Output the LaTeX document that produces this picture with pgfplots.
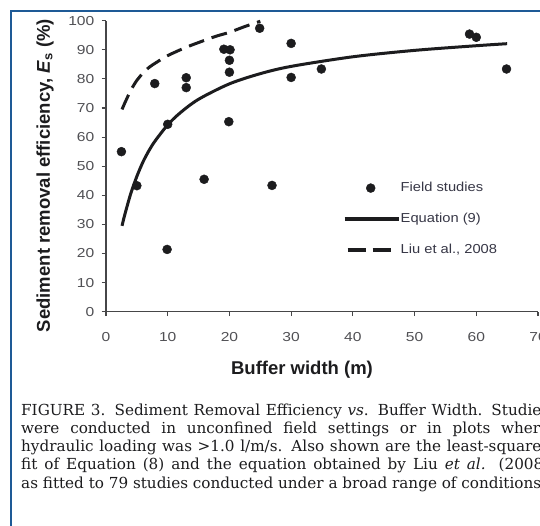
\documentclass[border=0pt]{standalone}
\usepackage{fontspec}
\usepackage{pgfplots}
\pgfplotsset{compat=1.18}

\newfontfamily\arialf{Liberation Sans}
\newfontfamily\tickf{Liberation Sans}[FakeStretch=1.2]
\newfontfamily\legf{Liberation Sans}[FakeStretch=1.13]
\newfontfamily\capf{DejaVu Serif}

\definecolor{frameblue}{RGB}{30,90,150}
\definecolor{ink}{RGB}{28,28,30}
\definecolor{tickgray}{RGB}{80,80,84}
\definecolor{axisgray}{RGB}{70,70,72}
\definecolor{legtext}{RGB}{55,55,70}

\begin{document}
\begin{tikzpicture}
\path[use as bounding box] (0,0) rectangle (540pt,525pt);
\clip (0,0) rectangle (540pt,525pt);
\fill[white] (0,0) rectangle (540pt,525pt);
% frame of the page scan
\draw[frameblue, line width=2.2pt] (11pt,-5pt) -- (11pt,514pt) -- (545pt,514pt);

\begin{axis}[
    at={(106pt,213.3pt)}, anchor=south west,
    width=432pt, height=291pt, scale only axis,
    xmin=0, xmax=70, ymin=0, ymax=100,
    axis x line*=bottom, axis y line*=left,
    axis line style={axisgray, line width=1.3pt},
    tick style={axisgray, line width=1.1pt},
    tick align=outside, major tick length=4.5pt,
    xtick={0,10,...,70}, ytick={0,10,...,100},
    ticklabel style={font=\tickf\fontsize{13}{13}\selectfont, text=tickgray, inner sep=0pt},
    /pgf/number format/assume math mode=true,
    xticklabel style={anchor=north, yshift=-16pt},
    yticklabel style={anchor=east, xshift=-7pt},
    xlabel={Buffer width (m)},
    ylabel={Sediment removal efficiency, \textit{E}\textsubscript{s} (\%)},
    label style={font=\arialf\bfseries\fontsize{18.5}{18.5}\selectfont, text=ink},
    xlabel style={at={(axis description cs:0.4537,-0.2175)}, anchor=base},
    ylabel style={at={(axis description cs:-0.1412,0.468)}, anchor=center},
    clip=false,
    legend style={at={(axis description cs:0.5475,0.4478)}, anchor=north west,
        draw=none, fill=none, inner sep=0pt, row sep=18pt,
        font=\legf\fontsize{13}{13}\selectfont, text=legtext,
        nodes={inner sep=0pt, text height=10pt, text depth=3pt}},
    legend cell align=left,
]
\addplot[only marks, mark=*, mark size=4.5pt, color=ink,
    legend image code/.code={\path[draw=none, fill=none] (0pt,0pt) -- (55pt,0pt);
        \fill[ink] (26pt,0pt) circle[radius=4.5pt];}]
    coordinates {(2.5,55)(5,43.3)(7.9,78.4)(10,64.4)(9.9,21.4)(13,80.4)(13,77)
    (15.9,45.5)(19.1,90.2)(20.1,90)(20,86.4)(20,82.3)(19.9,65.3)(24.9,97.4)
    (26.9,43.4)(30,92.2)(30,80.5)(34.9,83.4)(58.9,95.4)(60,94.3)(64.9,83.4)};
\addlegendentry{Field studies}

\addplot[ink, line width=3pt, smooth,
    legend image code/.code={\draw[ink, line width=4pt] (0pt,0pt) -- (54pt,0pt);}]
    coordinates {(2.6,29.5)(3,33)(4,40.5)(5,46.5)(6,51.5)(7,55.5)(8,58.8)(10,64.2)
    (12,68.3)(15,73)(20,78.3)(25,81.8)(30,84.3)(40,87.6)(50,89.8)(60,91.4)(65,92.1)};
\addlegendentry{Equation (9)}

\addplot[ink, line width=3pt, smooth, dash pattern=on 16pt off 8pt,
    legend image code/.code={\draw[ink, line width=4pt, dash pattern=on 18pt off 7pt] (3pt,0pt) -- (47pt,0pt);}]
    coordinates {(2.6,69.5)(3,71.5)(4,76)(5,79.5)(6,82)(7,84)(8.2,85.7)(10,88)
    (12.8,90.7)(15,92.5)(17.9,94.7)(20,96)(22.5,98)(25,99.8)};
\addlegendentry{Liu et al., 2008}
\end{axis}

% caption, cut at the right edge as in the scan
\begin{scope}[every node/.style={anchor=base west, inner sep=0pt, text=ink,
    font=\capf\fontsize{15.2}{18}\selectfont}]
\node at (21pt,110pt) {\makebox[528pt][s]{FIGURE 3. Sediment Removal Efficiency \textit{vs}. Buffer Width. Studies}};
\node at (21pt,91.7pt) {\makebox[528pt][s]{were conducted in unconfined field settings or in plots where}};
\node at (21pt,73.4pt) {\makebox[528pt][s]{hydraulic loading was >1.0 l/m/s. Also shown are the least-squares}};
\node at (21pt,55.1pt) {\makebox[528pt][s]{fit of Equation (8) and the equation obtained by Liu \textit{et al.} (2008)}};
\node at (21pt,36.8pt) {as fitted to 79 studies conducted under a broad range of conditions.};
\end{scope}
\end{tikzpicture}
\end{document}
